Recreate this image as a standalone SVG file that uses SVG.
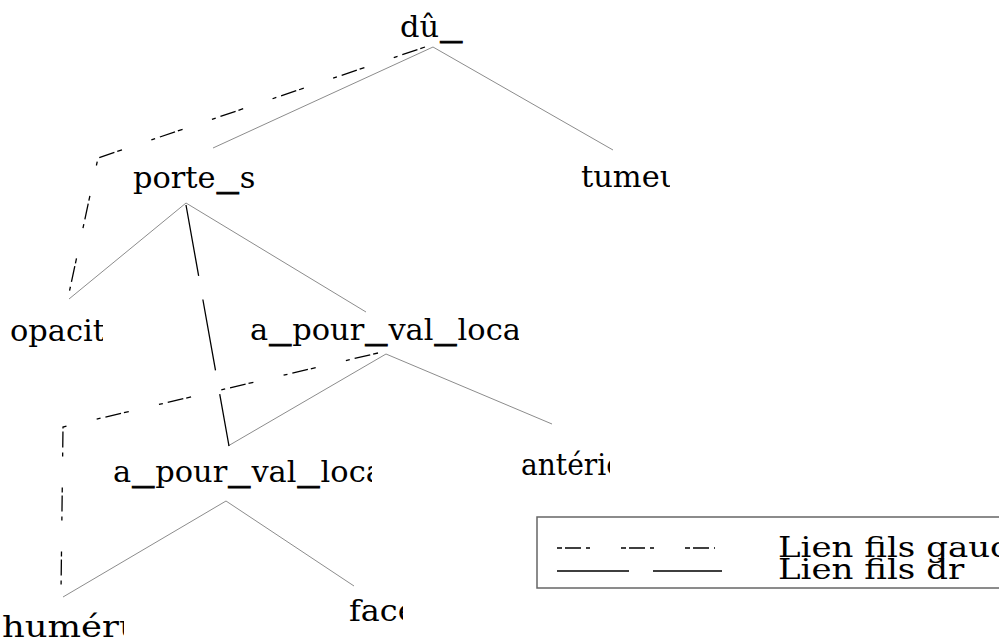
<svg xmlns="http://www.w3.org/2000/svg" width="999" height="641" viewBox="0 0 999 641">
<style>
.lbl{font-family:"DejaVu Serif","Liberation Serif",serif;font-size:29px;fill:#000}
.leg{font-family:"DejaVu Serif","Liberation Serif",serif;font-size:27px;fill:#000}
.u{font-size:42px;stroke:#000;stroke-width:0.9}
.edge{stroke:#8c8c8c;stroke-width:1;fill:none}
.left{stroke:#000;stroke-width:1.3;fill:none;stroke-dasharray:5 3 16 5 4 31}
.right{stroke:#000;stroke-width:1.3;fill:none;stroke-dasharray:72 24}
</style>
<defs>
<clipPath id="c1"><rect x="395" y="0" width="72" height="50"/></clipPath>
<clipPath id="c2"><rect x="128" y="155" width="129" height="50"/></clipPath>
<clipPath id="c3"><rect x="576" y="155" width="94" height="50"/></clipPath>
<clipPath id="c4"><rect x="5" y="310" width="98" height="50"/></clipPath>
<clipPath id="c5"><rect x="240" y="308" width="279" height="50"/></clipPath>
<clipPath id="c6"><rect x="108" y="450" width="264" height="50"/></clipPath>
<clipPath id="c7"><rect x="516" y="443" width="94" height="50"/></clipPath>
<clipPath id="c8"><rect x="0" y="605" width="124" height="40"/></clipPath>
<clipPath id="c9"><rect x="344" y="590" width="59" height="50"/></clipPath>
<clipPath id="c10"><rect x="537" y="517" width="462" height="71"/></clipPath>
<clipPath id="c11"><rect x="770" y="556" width="199" height="30"/></clipPath>
</defs>
<g id="connectors">
<path class="edge" d="M433,47 L213,148"/>
<path class="edge" d="M433,47 L613,150"/>
<path class="edge" d="M186,203 L69,299"/>
<path class="edge" d="M186,203 L366,312"/>
<path class="edge" d="M386,354 L228,446"/>
<path class="edge" d="M386,354 L552,424"/>
<path class="edge" d="M226,501 L63,597"/>
<path class="edge" d="M226,501 L354,586"/>
<path class="left" d="M425,47 L98,158 L68,298"/>
<path class="left" d="M378,353 L63,427 L61,592"/>
<path class="right" d="M186,205 L229,446"/>
</g>
<g id="n-du" clip-path="url(#c1)"><text class="lbl" transform="translate(400,37) scale(1.05,1)">dû<tspan class="u" dy="-4" dx="1">_</tspan></text></g>
<g id="n-porte" clip-path="url(#c2)"><text class="lbl" transform="translate(133,188) scale(1.05,1)">porte<tspan class="u" dy="-4" dx="1">_</tspan><tspan dy="4" dx="1">s</tspan></text></g>
<g id="n-tumeur" clip-path="url(#c3)"><text class="lbl" transform="translate(581,187) scale(1.05,1)">tumeu</text></g>
<g id="n-opacit" clip-path="url(#c4)"><text class="lbl" transform="translate(10,341) scale(1.05,1)">opacit</text></g>
<g id="n-apvl1" clip-path="url(#c5)"><text class="lbl" transform="translate(250,340) scale(1.05,1)">a<tspan class="u" dy="-4" dx="1">_</tspan><tspan dy="4" dx="1">pour</tspan><tspan class="u" dy="-4" dx="1">_</tspan><tspan dy="4" dx="1">val</tspan><tspan class="u" dy="-4" dx="1">_</tspan><tspan dy="4" dx="1">loca</tspan></text></g>
<g id="n-apvl2" clip-path="url(#c6)"><text class="lbl" transform="translate(113,482) scale(1.05,1)">a<tspan class="u" dy="-4" dx="1">_</tspan><tspan dy="4" dx="1">pour</tspan><tspan class="u" dy="-4" dx="1">_</tspan><tspan dy="4" dx="1">val</tspan><tspan class="u" dy="-4" dx="1">_</tspan><tspan dy="4" dx="1">loca</tspan></text></g>
<g id="n-anterie" clip-path="url(#c7)"><text class="lbl" transform="translate(521,475) scale(0.97,1)">antérie</text></g>
<g id="n-humer" clip-path="url(#c8)"><text class="lbl" transform="translate(2,637) scale(1.22,1)">huméru</text></g>
<g id="n-face" clip-path="url(#c9)"><text class="lbl" transform="translate(349,621) scale(1.1,1)">face</text></g>
<g id="legend">
<rect x="537" y="517" width="480" height="71" fill="none" stroke="#666" stroke-width="1.5"/>
<path class="left" d="M557,548 L715,548"/>
<path class="right" d="M557,571 L722,571"/>
<g clip-path="url(#c10)"><text class="leg" transform="translate(778,557) scale(1.26,1)">Lien fils gauche</text></g>
<g clip-path="url(#c11)"><text class="leg" transform="translate(778,579) scale(1.26,1)">Lien fils dr</text></g>
</g>
</svg>
